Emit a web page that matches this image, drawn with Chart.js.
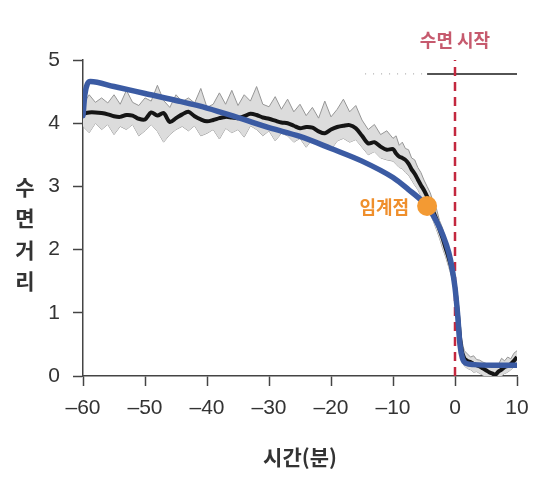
<!DOCTYPE html>
<html>
<head>
<meta charset="utf-8">
<script src="https://cdn.jsdelivr.net/npm/chart.js@4"></script>
<style>
  body { margin: 0; background: #fff; }
  canvas { display: block; }
</style>
</head>
<body>
<canvas id="sleepChart" width="556" height="486"></canvas>
<script>
// time axis for the measured trace (minutes relative to sleep onset)
const traceTime = [
  -60, -59, -58, -57, -56, -55, -54, -53, -52, -51, -50, -49, -48, -47, -46, -45, -44, -43, -42, -41,
  -40, -39, -38, -37, -36, -35, -34, -33, -32, -31, -30, -29, -28, -27, -26, -25, -24, -23, -22, -21,
  -20, -19, -18, -17, -16, -15, -14, -13, -12, -11, -10,
  -9.5, -9, -8.5, -8, -7.5, -7, -6.5, -6, -5.5, -5, -4.5, -4, -3.5, -3, -2.5, -2, -1.5, -1, -0.5, 0,
  0.5, 1, 1.5, 2, 2.5, 3, 3.5, 4, 4.5, 5, 5.5, 6, 6.5, 7, 7.5, 8, 8.5, 9, 9.5, 10
];
// mean sleep distance (black line)
const traceMean = [
  4.15, 4.17, 4.17, 4.16, 4.14, 4.11, 4.10, 4.13, 4.12, 4.07, 4.06, 4.17, 4.12, 4.16, 4.02, 4.08, 4.14, 4.18, 4.11, 4.06,
  4.03, 4.05, 4.08, 4.10, 4.09, 4.08, 4.11, 4.15, 4.13, 4.09, 4.07, 4.04, 4.01, 4.00, 3.96, 3.92, 3.94, 3.93, 3.87, 3.84,
  3.90, 3.94, 3.96, 3.97, 3.92, 3.80, 3.68, 3.70, 3.63, 3.58, 3.59,
  3.52, 3.47, 3.45, 3.42, 3.36, 3.27, 3.20, 3.11, 3.02, 2.94, 2.84, 2.72, 2.60, 2.48, 2.32, 2.18, 2.02, 1.86, 1.68, 1.42,
  0.95, 0.45, 0.28, 0.24, 0.22, 0.19, 0.17, 0.15, 0.12, 0.09, 0.06, 0.04, 0.02, 0.07, 0.10, 0.14, 0.16, 0.19, 0.24, 0.30
];
// error band edges (gray)
const traceUpper = [
  4.30, 4.45, 4.33, 4.40, 4.32, 4.45, 4.30, 4.52, 4.33, 4.28, 4.40, 4.35, 4.60, 4.36, 4.25, 4.45, 4.34, 4.40, 4.32, 4.55,
  4.25, 4.30, 4.48, 4.30, 4.52, 4.28, 4.45, 4.35, 4.58, 4.30, 4.26, 4.42, 4.22, 4.38, 4.18, 4.30, 4.12, 4.25, 4.08, 4.35,
  4.10, 4.22, 4.38, 4.18, 4.28, 4.05, 3.90, 3.98, 3.82, 3.88, 3.76,
  3.80, 3.65, 3.70, 3.60, 3.58, 3.45, 3.42, 3.30, 3.22, 3.10, 3.00, 2.90, 2.75, 2.65, 2.46, 2.34, 2.15, 2.00, 1.80, 1.55,
  1.10, 0.60, 0.40, 0.35, 0.30, 0.32, 0.26, 0.25, 0.22, 0.20, 0.17, 0.16, 0.14, 0.18, 0.28, 0.24, 0.30, 0.27, 0.36, 0.40
];
const traceLower = [
  3.95, 3.85, 4.00, 3.90, 3.98, 3.82, 3.95, 3.90, 3.98, 3.80, 3.88, 3.98, 3.87, 3.70, 3.82, 3.90, 3.95, 3.88, 3.96, 3.80,
  3.84, 3.90, 3.75, 3.92, 3.85, 3.90, 3.78, 3.96, 3.90, 3.80, 3.88, 3.72, 3.84, 3.80, 3.70, 3.76, 3.62, 3.75, 3.65, 3.68,
  3.58, 3.72, 3.76, 3.70, 3.74, 3.62, 3.50, 3.55, 3.45, 3.42, 3.40,
  3.35, 3.30, 3.28, 3.22, 3.18, 3.10, 3.02, 2.95, 2.85, 2.78, 2.66, 2.56, 2.45, 2.32, 2.18, 2.02, 1.88, 1.72, 1.55, 1.28,
  0.80, 0.32, 0.16, 0.12, 0.10, 0.06, 0.07, 0.04, 0.01, -0.02, -0.04, -0.06, -0.06, -0.03, 0.00, 0.04, 0.06, 0.10, 0.14, 0.20
];

// fitted model curve (blue)
const fitTime  = [-60, -59.7, -59.3, -58.8, -55, -50, -45, -40, -35, -30, -25, -20, -15, -10, -7.5, -5, -4, -3, -2, -1, -0.5, 0, 0.4, 0.8, 1.2, 1.8, 3, 6, 10];
const fitValue = [4.12, 4.45, 4.62, 4.66, 4.58, 4.47, 4.36, 4.24, 4.09, 3.93, 3.79, 3.60, 3.40, 3.14, 2.95, 2.74, 2.62, 2.45, 2.24, 1.95, 1.72, 1.40, 1.00, 0.50, 0.28, 0.20, 0.18, 0.17, 0.17];

// critical point and sleep onset
const criticalPoint = { x: -4.5, y: 2.69 };
const sleepOnset = 0;
const onsetLineY = [0, 5];
const topLineTime = [-4.5, 10];
const topLineValue = [4.78, 4.78];
const topDotsTime = [-14.5, -4.5];

const xTicks = [-60, -50, -40, -30, -20, -10, 0, 10];
const yTicks = [0, 1, 2, 3, 4, 5];
const yTitleChars = ['수', '면', '거', '리'];
const xTitle = '시간(분)';
const onsetLabel = '수면 시작';
const criticalLabel = '임계점';

const pairs = (xs, ys) => xs.map((v, i) => ({ x: v, y: ys[i] }));

const FONT = '"Noto Sans CJK KR", "Noto Sans", sans-serif';
const TICK_FONT = '"Liberation Sans", Arial, sans-serif';

const textPlugin = {
  id: 'textLabels',
  afterDraw(chart) {
    const { ctx, scales: { x, y } } = chart;
    ctx.save();
    ctx.textAlign = 'center';
    ctx.textBaseline = 'middle';
    // stacked y title
    ctx.fillStyle = '#333';
    ctx.font = 'bold 21px ' + FONT;
    yTitleChars.forEach((c, i) => ctx.fillText(c, 25, 187 + i * 31.5));
    // sleep onset label
    ctx.fillStyle = '#c65a6e';
    ctx.font = 'bold 18px ' + FONT;
    ctx.fillText(onsetLabel, x.getPixelForValue(sleepOnset), 40);
    // critical point label
    ctx.fillStyle = '#ef8f2c';
    ctx.textAlign = 'right';
    ctx.fillText(criticalLabel, x.getPixelForValue(criticalPoint.x) - 18, y.getPixelForValue(criticalPoint.y) + 1);
    ctx.restore();
  }
};

const ctx = document.getElementById('sleepChart').getContext('2d');
new Chart(ctx, {
  type: 'scatter',
  data: {
    datasets: [
      {
        // critical point
        data: [criticalPoint],
        pointRadius: 10,
        pointBackgroundColor: '#f39a33',
        pointBorderWidth: 0,
        order: 0
      },
      {
        // fitted curve
        data: pairs(fitTime, fitValue),
        showLine: true,
        borderColor: '#3b5ba3',
        borderWidth: 5.5,
        pointRadius: 0,
        cubicInterpolationMode: 'monotone',
        borderCapStyle: 'round',
        borderJoinStyle: 'round',
        order: 1
      },
      {
        // sleep onset line
        data: pairs([sleepOnset, sleepOnset], onsetLineY),
        showLine: true,
        borderColor: '#c3283f',
        borderWidth: 2.5,
        borderDash: [9, 6],
        pointRadius: 0,
        order: 2
      },
      {
        // mean trace
        data: pairs(traceTime, traceMean),
        showLine: true,
        borderColor: '#151515',
        borderWidth: 4,
        pointRadius: 0,
        tension: 0.3,
        order: 3
      },
      {
        // short line at top right
        data: pairs(topLineTime, topLineValue),
        showLine: true,
        borderColor: '#1a1a1a',
        borderWidth: 1.5,
        pointRadius: 0,
        order: 4
      },
      {
        // faint dotted lead-in of the top line
        data: pairs(topDotsTime, topLineValue),
        showLine: true,
        borderColor: '#9a9a9a',
        borderWidth: 1,
        borderDash: [1, 7],
        pointRadius: 0,
        order: 4
      },
      {
        // band upper
        data: pairs(traceTime, traceUpper),
        showLine: true,
        borderColor: '#969696',
        borderWidth: 1,
        backgroundColor: '#dcdcdc',
        fill: '+1',
        pointRadius: 0,
        order: 5
      },
      {
        // band lower
        data: pairs(traceTime, traceLower),
        showLine: true,
        borderColor: '#969696',
        borderWidth: 1,
        pointRadius: 0,
        order: 6
      }
    ]
  },
  options: {
    responsive: false,
    animation: false,
    devicePixelRatio: 1,
    layout: { padding: { top: 60, right: 39, left: 0, bottom: 0 } },
    plugins: {
      legend: { display: false },
      tooltip: { enabled: false }
    },
    scales: {
      x: {
        type: 'linear',
        min: -60,
        max: 10,
        afterFit: axis => { axis.height = 110; },
        afterBuildTicks: axis => { axis.ticks = xTicks.map(v => ({ value: v })); },
        ticks: {
          color: '#333',
          padding: 10,
          font: { family: TICK_FONT, size: 21 },
          callback: v => (v < 0 ? '–' + Math.abs(v) : String(v))
        },
        grid: { drawOnChartArea: false, tickLength: 10, tickColor: '#444', tickWidth: 1.5 },
        border: { color: '#444', width: 1.5 },
        title: {
          display: true,
          text: xTitle,
          color: '#333',
          font: { family: FONT, size: 21, weight: 'bold' },
          padding: { top: 0, bottom: 16 }
        }
      },
      y: {
        min: 0,
        max: 5,
        afterFit: axis => { axis.width = 83; },
        afterBuildTicks: axis => { axis.ticks = yTicks.map(v => ({ value: v })); },
        ticks: {
          color: '#333',
          padding: 13,
          font: { family: TICK_FONT, size: 21 }
        },
        grid: { drawOnChartArea: false, tickLength: 10, tickColor: '#444', tickWidth: 1.5 },
        border: { color: '#444', width: 1.5 }
      }
    }
  },
  plugins: [textPlugin]
});
</script>
</body>
</html>
